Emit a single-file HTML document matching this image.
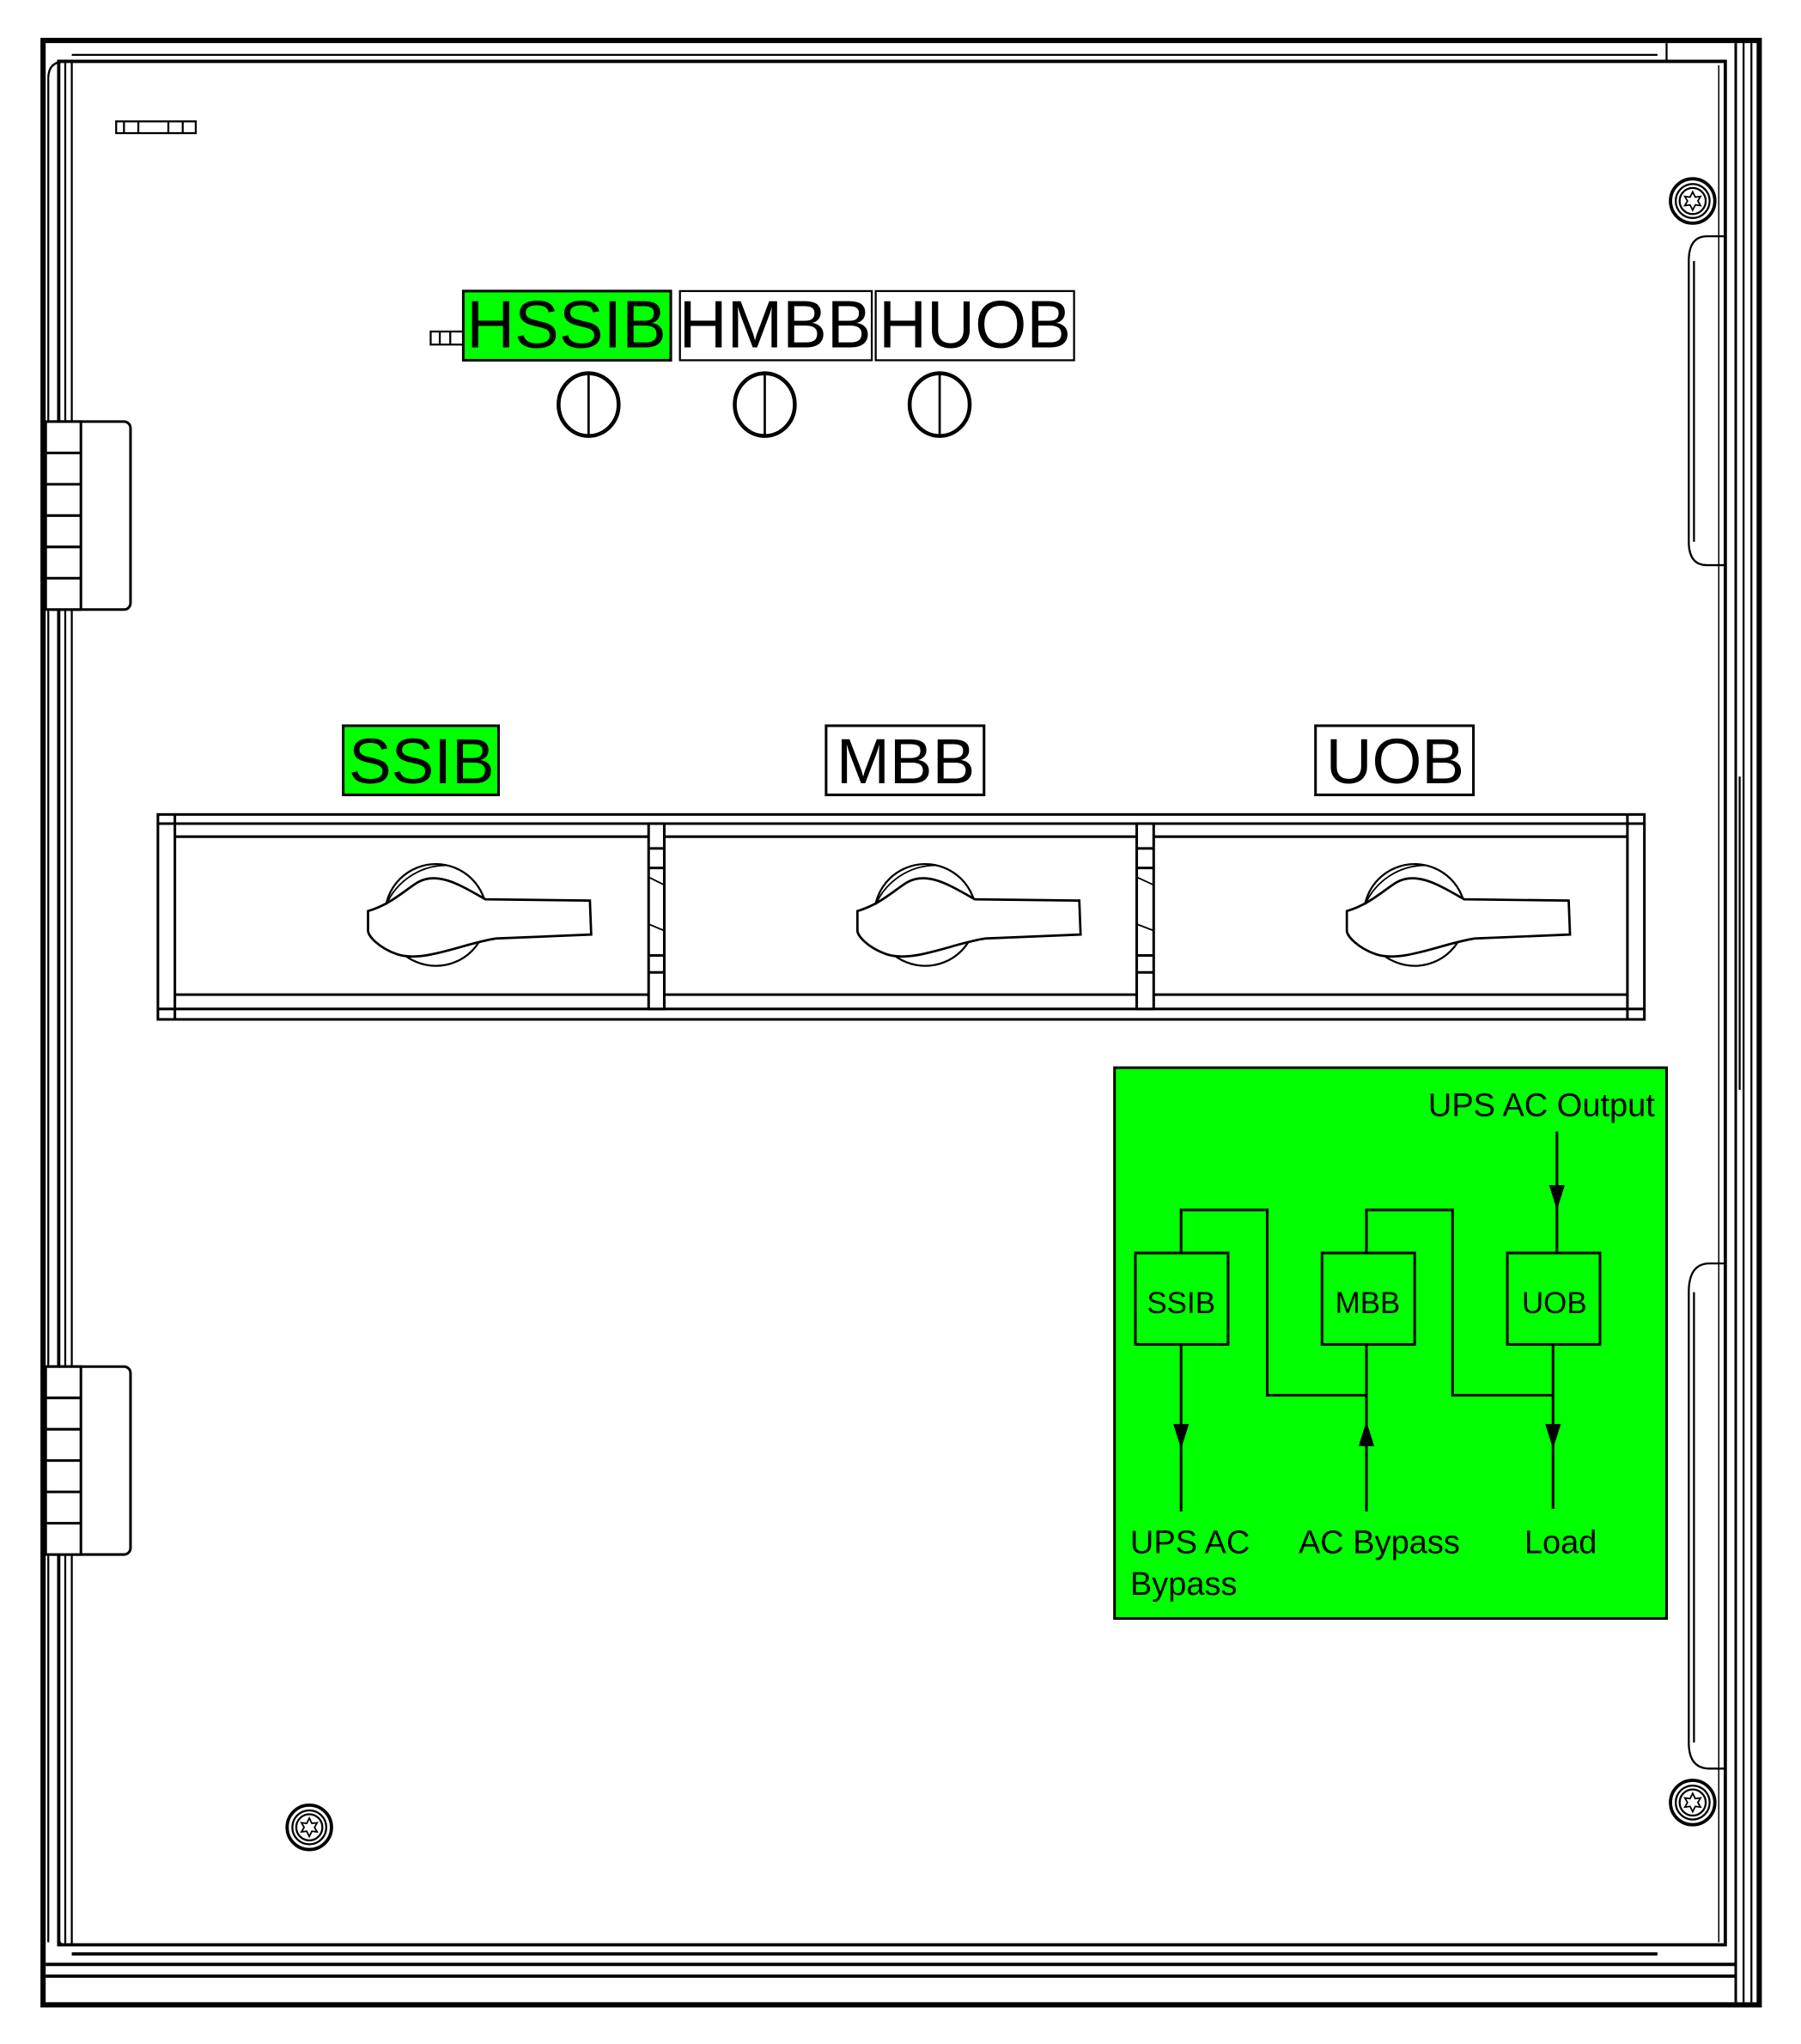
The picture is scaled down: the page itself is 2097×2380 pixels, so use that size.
<!DOCTYPE html>
<html><head><meta charset="utf-8"><style>
html,body{margin:0;padding:0;background:#fff;}
svg{display:block;}
text{font-family:"Liberation Sans",Arial,sans-serif;}
</style></head><body>
<svg width="2097" height="2380" viewBox="0 0 1380 1566" preserveAspectRatio="none" xmlns="http://www.w3.org/2000/svg">
<defs>
<g id="handle">
<circle cx="0" cy="0" r="39" fill="none" stroke="#000" stroke-width="1.5"/>
<path d="M-52,-3 C-35,-8 -25,-18 -14,-25 C2,-34 20,-22 38,-12 L118,-11 L119,15 L46,18 C20,22 -10,37 -30,30 C-44,25 -52,16 -52,12 Z" fill="#fff" stroke="#000" stroke-width="1.8"/>
<path d="M-38,-8 C-30,-26 -12,-38 8,-38" fill="none" stroke="#000" stroke-width="1.2"/>
</g>
<g id="screw">
<circle r="17" fill="#fff" stroke="#000" stroke-width="2.5"/>
<circle r="13" fill="none" stroke="#000" stroke-width="1.5"/>
<circle r="10" fill="none" stroke="#000" stroke-width="1.5"/>
<polygon points="0,-7 2,-3 6,-3.5 4,0 6,3.5 2,3 0,7 -2,3 -6,3.5 -4,0 -6,-3.5 -2,-3" fill="none" stroke="#000" stroke-width="1.2"/>
</g>
</defs>
<rect width="1380" height="1566" fill="#fff"/>
<!-- outer frame -->
<rect x="33" y="31" width="1315" height="1505" fill="none" stroke="#000" stroke-width="4"/>
<!-- frame inner lines -->
<line x1="35" y1="1505" x2="1330" y2="1505" stroke="#000" stroke-width="2.5"/>
<line x1="35" y1="1514" x2="1330" y2="1514" stroke="#000" stroke-width="2.5"/>
<line x1="1330" y1="33" x2="1330" y2="1534" stroke="#000" stroke-width="2"/>
<line x1="1336" y1="33" x2="1336" y2="1534" stroke="#000" stroke-width="1.5"/>
<line x1="1342" y1="33" x2="1342" y2="1534" stroke="#000" stroke-width="1.5"/>
<line x1="1277" y1="33" x2="1277" y2="47" stroke="#000" stroke-width="1.5"/>
<!-- door -->
<path d="M45,47 L1322,47 L1322,1490 L45,1490 Z" fill="#fff" stroke="#000" stroke-width="2.5"/>
<line x1="55" y1="42" x2="1270" y2="42" stroke="#000" stroke-width="1.5"/>
<line x1="55" y1="1497" x2="1270" y2="1497" stroke="#000" stroke-width="2.5"/>
<line x1="55" y1="47" x2="55" y2="1490" stroke="#000" stroke-width="1.5"/>
<line x1="50" y1="47" x2="50" y2="1490" stroke="#000" stroke-width="1.5"/>
<path d="M45,1485 Q45,1490 50,1490" fill="none" stroke="#000" stroke-width="1.5"/>
<path d="M37,60 Q37,47 50,47" fill="none" stroke="#000" stroke-width="1.5"/>
<line x1="37" y1="60" x2="37" y2="1488" stroke="#000" stroke-width="1.5"/>
<line x1="1317" y1="50" x2="1317" y2="1488" stroke="#000" stroke-width="1"/>
<line x1="1333" y1="595" x2="1333" y2="835" stroke="#000" stroke-width="1.5"/>
<!-- hinges -->
<g stroke="#000" stroke-width="2" fill="#fff">
<rect x="35" y="323" width="65" height="144" rx="5"/>
<rect x="35" y="323" width="27" height="144"/>
<line x1="35" y1="347" x2="62" y2="347"/><line x1="35" y1="371" x2="62" y2="371"/><line x1="35" y1="395" x2="62" y2="395"/><line x1="35" y1="419" x2="62" y2="419"/><line x1="35" y1="443" x2="62" y2="443"/>
<rect x="35" y="1047" width="65" height="144" rx="5"/>
<rect x="35" y="1047" width="27" height="144"/>
<line x1="35" y1="1071" x2="62" y2="1071"/><line x1="35" y1="1095" x2="62" y2="1095"/><line x1="35" y1="1119" x2="62" y2="1119"/><line x1="35" y1="1143" x2="62" y2="1143"/><line x1="35" y1="1167" x2="62" y2="1167"/>
</g>
<!-- right latch slots -->
<g fill="none" stroke="#000" stroke-width="1.5">
<path d="M1322,181 L1308,181 Q1294,181 1294,200 L1294,415 Q1294,433 1308,433 L1322,433"/>
<line x1="1298" y1="200" x2="1298" y2="415"/>
<path d="M1322,968 L1310,968 Q1294,968 1294,990 L1294,1335 Q1294,1355 1310,1355 L1322,1355"/>
<line x1="1298" y1="990" x2="1298" y2="1335"/>
</g>
<!-- screws -->
<use href="#screw" x="1297" y="154"/>
<use href="#screw" x="1297" y="1381"/>
<use href="#screw" x="237" y="1400"/>
<!-- small tags -->
<g fill="#fff" stroke="#000" stroke-width="1.5">
<rect x="89" y="93" width="61" height="9"/>
<line x1="95" y1="93" x2="95" y2="102"/><line x1="106" y1="93" x2="106" y2="102"/><line x1="129" y1="93" x2="129" y2="102"/><line x1="140" y1="93" x2="140" y2="102"/>
<rect x="330" y="254" width="25" height="10"/>
<line x1="337" y1="254" x2="337" y2="264"/><line x1="345" y1="254" x2="345" y2="264"/>
</g>
<!-- top labels -->
<rect x="355" y="223" width="159" height="53" fill="#00ff00" stroke="#000" stroke-width="2"/>
<rect x="521" y="223" width="147" height="53" fill="#fff" stroke="#000" stroke-width="1.5"/>
<rect x="671" y="223" width="152" height="53" fill="#fff" stroke="#000" stroke-width="1.5"/>
<text x="434" y="266" font-size="51" text-anchor="middle">HSSIB</text>
<text x="594" y="266" font-size="51" text-anchor="middle">HMBB</text>
<text x="747" y="266" font-size="51" text-anchor="middle">HUOB</text>
<g fill="none" stroke="#000" stroke-width="3">
<ellipse cx="451" cy="310" rx="23" ry="24"/><line x1="451" y1="286" x2="451" y2="334" stroke-width="1.8"/>
<ellipse cx="586" cy="310" rx="23" ry="24"/><line x1="586" y1="286" x2="586" y2="334" stroke-width="1.8"/>
<ellipse cx="720" cy="310" rx="23" ry="24"/><line x1="720" y1="286" x2="720" y2="334" stroke-width="1.8"/>
</g>
<!-- switch labels -->
<rect x="263" y="556" width="119" height="53" fill="#00ff00" stroke="#000" stroke-width="2"/>
<rect x="633" y="556" width="121" height="53" fill="#fff" stroke="#000" stroke-width="2"/>
<rect x="1008" y="556" width="121" height="53" fill="#fff" stroke="#000" stroke-width="2"/>
<text x="323" y="600" font-size="49" text-anchor="middle">SSIB</text>
<text x="694" y="600" font-size="49" text-anchor="middle">MBB</text>
<text x="1069" y="600" font-size="49" text-anchor="middle">UOB</text>
<!-- switch panel -->
<g fill="none" stroke="#000" stroke-width="2">
<rect x="121" y="624" width="1139" height="157"/>
<line x1="134" y1="624" x2="134" y2="781"/>
<line x1="1247" y1="624" x2="1247" y2="781"/>
<line x1="121" y1="631" x2="1260" y2="631"/>
<line x1="134" y1="641" x2="1247" y2="641"/>
<line x1="134" y1="762" x2="1247" y2="762"/>
<line x1="121" y1="773" x2="1260" y2="773"/>
<rect x="497" y="631" width="12" height="142" fill="#fff"/>
<rect x="871" y="631" width="13" height="142" fill="#fff"/>
<line x1="497" y1="650" x2="509" y2="650"/><line x1="497" y1="665" x2="509" y2="665"/><line x1="497" y1="732" x2="509" y2="732"/><line x1="497" y1="745" x2="509" y2="745"/>
<line x1="497" y1="672" x2="509" y2="678" stroke-width="1.2"/><line x1="497" y1="708" x2="509" y2="713" stroke-width="1.2"/>
<line x1="871" y1="650" x2="884" y2="650"/><line x1="871" y1="665" x2="884" y2="665"/><line x1="871" y1="732" x2="884" y2="732"/><line x1="871" y1="745" x2="884" y2="745"/>
<line x1="871" y1="672" x2="884" y2="678" stroke-width="1.2"/><line x1="871" y1="708" x2="884" y2="713" stroke-width="1.2"/>
</g>
<use href="#handle" x="334" y="701"/>
<use href="#handle" x="709" y="701"/>
<use href="#handle" x="1084" y="701"/>
<!-- green diagram -->
<rect x="854" y="818" width="423" height="422" fill="#00ff00" stroke="#000" stroke-width="2"/>
<g fill="none" stroke="#000" stroke-width="2">
<rect x="870" y="960" width="71" height="70"/>
<rect x="1013" y="960" width="71" height="70"/>
<rect x="1155" y="960" width="71" height="70"/>
<polyline points="905,960 905,927 971,927 971,1069 1047,1069"/>
<polyline points="1047,960 1047,927 1113,927 1113,1069 1190,1069"/>
<line x1="1193" y1="867" x2="1193" y2="960"/>
<line x1="905" y1="1030" x2="905" y2="1158"/>
<line x1="1047" y1="1030" x2="1047" y2="1158"/>
<line x1="1190" y1="1030" x2="1190" y2="1156"/>
</g>
<g fill="#000">
<polygon points="1187,908 1199,908 1193,927"/>
<polygon points="899,1091 911,1091 905,1110"/>
<polygon points="1041,1108 1053,1108 1047,1089"/>
<polygon points="1184,1091 1196,1091 1190,1110"/>
</g>
<g font-size="25">
<text x="1268" y="855" text-anchor="end">UPS AC Output</text>
<text x="905" y="1006" text-anchor="middle" font-size="23">SSIB</text>
<text x="1048" y="1006" text-anchor="middle" font-size="23">MBB</text>
<text x="1191" y="1006" text-anchor="middle" font-size="23">UOB</text>
<text x="866" y="1190">UPS AC</text>
<text x="866" y="1222">Bypass</text>
<text x="995" y="1190">AC Bypass</text>
<text x="1168" y="1190">Load</text>
</g>
</svg>
</body></html>
